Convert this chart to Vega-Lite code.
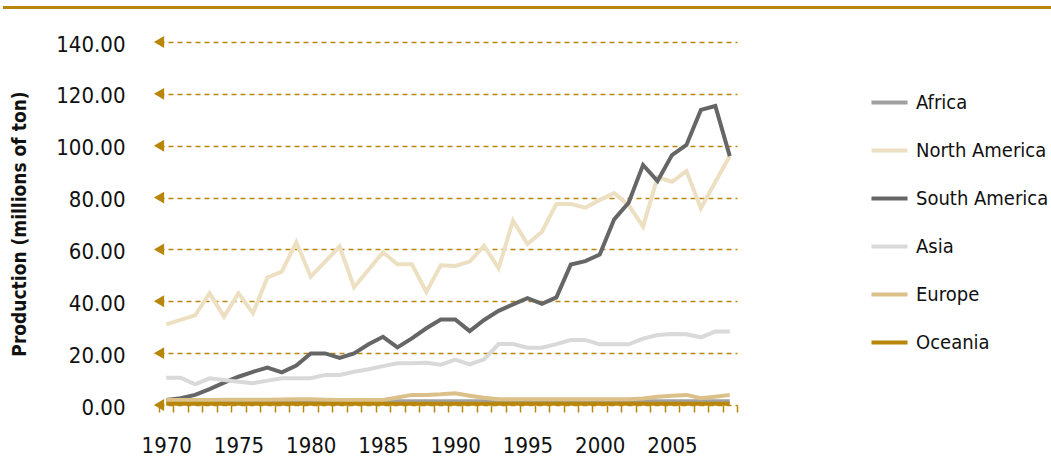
{
  "$schema": "https://vega.github.io/schema/vega-lite/v6.json",
  "width": 578,
  "height": 363,
  "autosize": {"type": "none"},
  "padding": {"left": 159, "top": 42, "right": 314, "bottom": 55},
  "background": "white",
  "config": {
    "view": {"stroke": null},
    "font": "DejaVu Sans Condensed, Liberation Sans",
    "axis": {"labelFont": "DejaVu Sans Condensed, Liberation Sans", "titleFont": "DejaVu Sans Condensed, Liberation Sans"},
    "legend": {"labelFont": "DejaVu Sans Condensed, Liberation Sans"}
  },
  "layer": [
    {
      "data": {"values": [{"k": 1}]},
      "mark": {"type": "rule", "color": "#b8860b", "strokeWidth": 3},
      "encoding": {"x": {"value": -156}, "x2": {"value": 892}, "y": {"value": -34.5}}
    },
    {
      "data": {"values": [{"g": 0}, {"g": 20}, {"g": 40}, {"g": 60}, {"g": 80}, {"g": 100}, {"g": 120}, {"g": 140}]},
      "mark": {"type": "point", "shape": "triangle-left", "filled": true, "color": "#b8860b", "size": 140, "opacity": 1},
      "encoding": {
        "x": {"datum": 1970, "type": "ordinal", "bandPosition": 0},
        "y": {"field": "g", "type": "quantitative", "title": "Production (millions of ton)"}
      }
    },
    {
      "data": {"values": [
        {"year": 1970, "Africa": 1.4, "North America": 31.1, "South America": 1.9, "Asia": 10.5, "Europe": 1.9, "Oceania": 0.5},
        {"year": 1971, "Africa": 1.4, "North America": 32.8, "South America": 2.6, "Asia": 10.5, "Europe": 1.9, "Oceania": 0.5},
        {"year": 1972, "Africa": 1.4, "North America": 34.6, "South America": 3.9, "Asia": 8.0, "Europe": 1.9, "Oceania": 0.5},
        {"year": 1973, "Africa": 1.4, "North America": 43.1, "South America": 6.1, "Asia": 10.3, "Europe": 1.9, "Oceania": 0.5},
        {"year": 1974, "Africa": 1.4, "North America": 34.1, "South America": 8.6, "Asia": 9.6, "Europe": 2.0, "Oceania": 0.5},
        {"year": 1975, "Africa": 1.4, "North America": 43.1, "South America": 10.9, "Asia": 9.0, "Europe": 2.0, "Oceania": 0.5},
        {"year": 1976, "Africa": 1.4, "North America": 35.4, "South America": 12.8, "Asia": 8.4, "Europe": 2.0, "Oceania": 0.5},
        {"year": 1977, "Africa": 1.4, "North America": 49.2, "South America": 14.4, "Asia": 9.4, "Europe": 2.0, "Oceania": 0.5},
        {"year": 1978, "Africa": 1.4, "North America": 51.4, "South America": 12.6, "Asia": 10.3, "Europe": 2.1, "Oceania": 0.5},
        {"year": 1979, "Africa": 1.4, "North America": 62.7, "South America": 15.2, "Asia": 10.3, "Europe": 2.2, "Oceania": 0.5},
        {"year": 1980, "Africa": 1.4, "North America": 49.5, "South America": 19.9, "Asia": 10.3, "Europe": 2.2, "Oceania": 0.5},
        {"year": 1981, "Africa": 1.4, "North America": 55.3, "South America": 19.9, "Asia": 11.6, "Europe": 2.0, "Oceania": 0.5},
        {"year": 1982, "Africa": 1.4, "North America": 61.1, "South America": 18.2, "Asia": 11.6, "Europe": 1.9, "Oceania": 0.5},
        {"year": 1983, "Africa": 1.4, "North America": 45.4, "South America": 19.9, "Asia": 12.8, "Europe": 1.9, "Oceania": 0.5},
        {"year": 1984, "Africa": 1.4, "North America": 52.2, "South America": 23.4, "Asia": 13.8, "Europe": 1.9, "Oceania": 0.5},
        {"year": 1985, "Africa": 1.4, "North America": 58.9, "South America": 26.3, "Asia": 15.0, "Europe": 1.9, "Oceania": 0.5},
        {"year": 1986, "Africa": 1.4, "North America": 54.3, "South America": 22.2, "Asia": 16.1, "Europe": 2.9, "Oceania": 0.5},
        {"year": 1987, "Africa": 1.4, "North America": 54.3, "South America": 25.7, "Asia": 16.1, "Europe": 3.9, "Oceania": 0.5},
        {"year": 1988, "Africa": 1.4, "North America": 43.6, "South America": 29.6, "Asia": 16.3, "Europe": 3.9, "Oceania": 0.5},
        {"year": 1989, "Africa": 1.4, "North America": 53.9, "South America": 33.0, "Asia": 15.5, "Europe": 4.1, "Oceania": 0.5},
        {"year": 1990, "Africa": 1.4, "North America": 53.6, "South America": 33.0, "Asia": 17.5, "Europe": 4.5, "Oceania": 0.5},
        {"year": 1991, "Africa": 1.4, "North America": 55.3, "South America": 28.5, "Asia": 15.7, "Europe": 3.6, "Oceania": 0.5},
        {"year": 1992, "Africa": 1.4, "North America": 61.4, "South America": 32.8, "Asia": 17.6, "Europe": 2.8, "Oceania": 0.5},
        {"year": 1993, "Africa": 1.4, "North America": 52.7, "South America": 36.3, "Asia": 23.5, "Europe": 2.2, "Oceania": 0.5},
        {"year": 1994, "Africa": 1.4, "North America": 71.1, "South America": 38.8, "Asia": 23.5, "Europe": 2.2, "Oceania": 0.5},
        {"year": 1995, "Africa": 1.4, "North America": 62.1, "South America": 41.2, "Asia": 22.1, "Europe": 2.2, "Oceania": 0.5},
        {"year": 1996, "Africa": 1.4, "North America": 66.8, "South America": 39.0, "Asia": 22.1, "Europe": 2.2, "Oceania": 0.5},
        {"year": 1997, "Africa": 1.4, "North America": 77.5, "South America": 41.5, "Asia": 23.5, "Europe": 2.2, "Oceania": 0.5},
        {"year": 1998, "Africa": 1.4, "North America": 77.5, "South America": 54.2, "Asia": 25.1, "Europe": 2.2, "Oceania": 0.5},
        {"year": 1999, "Africa": 1.4, "North America": 76.1, "South America": 55.5, "Asia": 25.1, "Europe": 2.2, "Oceania": 0.5},
        {"year": 2000, "Africa": 1.4, "North America": 79.1, "South America": 58.0, "Asia": 23.4, "Europe": 2.2, "Oceania": 0.5},
        {"year": 2001, "Africa": 1.4, "North America": 81.7, "South America": 71.6, "Asia": 23.4, "Europe": 2.2, "Oceania": 0.5},
        {"year": 2002, "Africa": 1.4, "North America": 77.1, "South America": 78.0, "Asia": 23.4, "Europe": 2.2, "Oceania": 0.5},
        {"year": 2003, "Africa": 1.4, "North America": 68.8, "South America": 92.6, "Asia": 25.6, "Europe": 2.5, "Oceania": 0.5},
        {"year": 2004, "Africa": 1.4, "North America": 87.8, "South America": 86.4, "Asia": 27.0, "Europe": 3.2, "Oceania": 0.5},
        {"year": 2005, "Africa": 1.4, "North America": 86.1, "South America": 96.4, "Asia": 27.4, "Europe": 3.6, "Oceania": 0.5},
        {"year": 2006, "Africa": 1.4, "North America": 90.2, "South America": 100.3, "Asia": 27.3, "Europe": 3.9, "Oceania": 0.5},
        {"year": 2007, "Africa": 1.4, "North America": 75.9, "South America": 113.8, "Asia": 26.1, "Europe": 2.6, "Oceania": 0.5},
        {"year": 2008, "Africa": 1.4, "North America": 86.0, "South America": 115.3, "Asia": 28.3, "Europe": 3.2, "Oceania": 0.5},
        {"year": 2009, "Africa": 1.4, "North America": 96.0, "South America": 96.0, "Asia": 28.3, "Europe": 3.9, "Oceania": 0.5}
      ]},
      "transform": [
        {"fold": ["Africa", "North America", "South America", "Asia", "Europe", "Oceania"], "as": ["region", "value"]}
      ],
      "mark": {"type": "line", "strokeWidth": 4, "strokeCap": "butt", "strokeJoin": "miter"},
      "encoding": {
        "x": {
          "field": "year",
          "type": "ordinal",
          "bandPosition": 0.5,
          "scale": {"type": "band", "paddingInner": 0, "paddingOuter": 0},
          "axis": {
            "title": null,
            "domain": false,
            "grid": false,
            "tickBand": "extent",
            "ticks": true,
            "tickColor": "#b8860b",
            "tickSize": 7,
            "tickWidth": 1.5,
            "labelAngle": 0,
            "labelAlign": "center",
            "labelBaseline": "top",
            "labelOverlap": false,
            "labelExpr": "datum.value % 5 == 0 ? datum.label : ''",
            "labelFontSize": 22,
            "labelColor": "#111111",
            "labelPadding": 23
          }
        },
        "y": {
          "field": "value",
          "type": "quantitative",
          "scale": {"domain": [0, 140]},
          "title": "Production (millions of ton)",
          "axis": {
            "values": [0, 20, 40, 60, 80, 100, 120, 140],
            "format": ".2f",
            "domain": false,
            "ticks": false,
            "grid": true,
            "gridColor": "#b8860b",
            "gridDash": [5, 4],
            "gridWidth": 1.5,
            "labelFontSize": 22,
            "labelColor": "#111111",
            "labelPadding": 34,
            "labelOffset": 2,
            "titleFontSize": 19,
            "titleFontWeight": "bold",
            "titleColor": "#111111",
            "titlePadding": 26
          }
        },
        "color": {
          "field": "region",
          "type": "nominal",
          "scale": {
            "domain": ["Africa", "North America", "South America", "Asia", "Europe", "Oceania"],
            "range": ["#a0a0a0", "#ede0c2", "#666666", "#d9d9d9", "#dcc08a", "#b8860b"]
          },
          "legend": {
            "title": null,
            "orient": "none",
            "legendX": 710,
            "legendY": 40,
            "padding": 0,
            "symbolType": "stroke",
            "symbolStrokeWidth": 4,
            "symbolSize": 1300,
            "labelFontSize": 20,
            "labelColor": "#111111",
            "labelOffset": 6,
            "rowPadding": 17
          }
        }
      }
    }
  ]
}
